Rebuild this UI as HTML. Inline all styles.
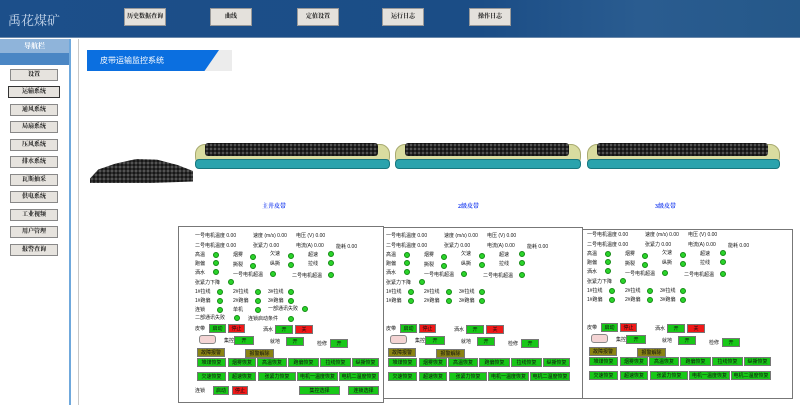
<!DOCTYPE html>
<html><head><meta charset="utf-8"><style>
*{margin:0;padding:0;box-sizing:border-box}
body{width:800px;height:405px;overflow:hidden;background:#fff;position:relative;font-family:"Liberation Serif","Noto Serif CJK SC","Noto Sans CJK SC",serif}
.a{position:absolute}
#hdr{left:0;top:0;width:800px;height:38px;background:linear-gradient(90deg,#1c4f8a 0%,#1b4d86 60%,#2a5c90 80%,#255889 100%);border-bottom:1px solid #6a88aa}
.hb{position:absolute;top:8px;width:42px;height:18px;background:#e4e1dc;border:1px solid #999;font-size:6px;font-weight:bold;text-align:center;line-height:16px;color:#111}
.logo{left:8px;top:10px;font-size:13px;color:#c8d8ec;font-family:"Noto Serif CJK SC",serif}
#side{left:0;top:39px;width:71px;height:366px;background:#fff;border-right:2px solid #6fa8dc}
.sb{position:absolute;left:10px;width:48px;height:12px;background:#e6e3de;border:1px solid #888;font-size:6px;font-weight:bold;text-align:center;line-height:10px;color:#111}
.t{position:absolute;font-size:5px;color:#111;white-space:nowrap;line-height:6px;font-family:"Liberation Sans","Noto Sans CJK SC",sans-serif}
.d{position:absolute;width:6px;height:6px;border-radius:50%;background:#2ad42a;border:0.5px solid #138a13}
.g,.r,.o{position:absolute;height:9px;font-size:5px;text-align:center;line-height:9px;color:#111;border:1px solid #777;font-family:"Liberation Sans","Noto Sans CJK SC",sans-serif;white-space:nowrap;overflow:hidden}
.g{background:#18c818}.r{background:#f01818}.o{background:#8a8414}
.pk{position:absolute;width:17px;height:9px;background:#f4d4d4;border:1px solid #888;border-radius:3px}
.box{position:absolute;border:1px solid #777}
.belt{position:absolute;height:31px}
.belt .body{position:absolute;left:0;top:3px;right:0;height:23px;background:#d9dca0;border-radius:10px;border:1px solid #a8aa70}
.belt .coal{position:absolute;left:10px;right:12px;top:2px;height:13px;background:radial-gradient(circle,#555 0.8px,#222 1.6px,#111 2px);background-size:4px 4px;border-radius:3px}
.belt .base{position:absolute;left:0;right:0;top:18px;height:10px;background:#2aa3ad;border-radius:4px;border:1px solid #18777f}
.bl{position:absolute;top:201px;font-size:6px;font-weight:bold;color:#1a3cf0}
</style></head><body>
<div id="hdr" class="a">
<div class="a logo">禹花煤矿</div>
<div class="hb" style="left:124px">历史数据查询</div>
<div class="hb" style="left:210px">曲线</div>
<div class="hb" style="left:297px">定值设置</div>
<div class="hb" style="left:382px">运行日志</div>
<div class="hb" style="left:469px">操作日志</div>
</div>
<div id="side" class="a">
<div class="a" style="left:0;top:0;width:69px;height:14px;background:#8fb4da;color:#fff;font-size:7px;text-align:center;line-height:14px;font-weight:bold">导航栏</div>
<div class="a" style="left:0;top:14px;width:69px;height:12px;background:#4a86c4"></div>
<div class="sb" style="top:30px">设置</div>
<div class="sb" style="top:47px;border:1px solid #333;left:8px;width:52px">运输系统</div>
<div class="sb" style="top:65px">通风系统</div>
<div class="sb" style="top:82px">局扇系统</div>
<div class="sb" style="top:100px">压风系统</div>
<div class="sb" style="top:117px">排水系统</div>
<div class="sb" style="top:135px">瓦斯抽采</div>
<div class="sb" style="top:152px">供电系统</div>
<div class="sb" style="top:170px">工业视频</div>
<div class="sb" style="top:187px">用户管理</div>
<div class="sb" style="top:205px">报警查询</div>
</div>
<div class="a" style="left:78px;top:39px;width:1px;height:366px;background:#c8c8c8"></div>
<div class="a" style="left:87px;top:50px;width:145px;height:21px;background:#ececec"></div>
<div class="a" style="left:87px;top:50px;width:145px;height:21px;background:#0b6fe0;clip-path:polygon(0 0,100% 0,89% 100%,0 100%);width:132px;color:#fff;font-size:8px;line-height:21px;padding-left:13px;font-family:'Liberation Sans','Noto Sans CJK SC',sans-serif">皮带运输监控系统</div>

<div class="a" style="left:90px;top:153px;width:103px;height:30px;background:radial-gradient(circle,#555 0.9px,#222 1.8px,#111 2.2px);background-size:4px 4px;clip-path:polygon(0 85%,8% 55%,25% 35%,45% 20%,65% 22%,85% 40%,100% 60%,100% 95%,60% 100%,0 100%)"></div>
<div class="belt" style="left:195px;top:141px;width:195px"><div class="body"></div><div class="coal"></div><div class="base"></div></div>
<div class="belt" style="left:395px;top:141px;width:186px"><div class="body"></div><div class="coal"></div><div class="base"></div></div>
<div class="belt" style="left:587px;top:141px;width:193px"><div class="body"></div><div class="coal"></div><div class="base"></div></div>
<div class="bl" style="left:262px">主井皮带</div>
<div class="bl" style="left:458px">2级皮带</div>
<div class="bl" style="left:655px">3级皮带</div>

<div class="box" style="left:178px;top:226px;width:206px;height:177px"></div>
<div class="box" style="left:383px;top:227px;width:200px;height:172px"></div>
<div class="box" style="left:582px;top:229px;width:211px;height:170px"></div>

<!-- panel 1 -->
<div class="a" style="left:178px;top:225px">
<div class="t" style="left:17px;top:8px">一号电机温度 0.00</div><div class="t" style="left:75px;top:8px">速度 (m/s) 0.00</div><div class="t" style="left:118px;top:8px">电压 (V) 0.00</div>
<div class="t" style="left:17px;top:18px">二号电机温度 0.00</div><div class="t" style="left:75px;top:18px">张紧力 0.00</div><div class="t" style="left:118px;top:18px">电流(A) 0.00</div><div class="t" style="left:158px;top:19px">能耗 0.00</div>
<div class="t" style="left:17px;top:27px">高温</div><div class="d" style="left:35px;top:27px"></div><div class="t" style="left:55px;top:27px">烟雾</div><div class="d" style="left:72px;top:29px"></div><div class="t" style="left:92px;top:26px">欠速</div><div class="d" style="left:110px;top:28px"></div><div class="t" style="left:130px;top:27px">超速</div><div class="d" style="left:150px;top:26px"></div>
<div class="t" style="left:17px;top:36px">跑偏</div><div class="d" style="left:35px;top:35px"></div><div class="t" style="left:55px;top:37px">撕裂</div><div class="d" style="left:72px;top:38px"></div><div class="t" style="left:92px;top:36px">纵撕</div><div class="d" style="left:110px;top:37px"></div><div class="t" style="left:130px;top:36px">拉线</div><div class="d" style="left:150px;top:35px"></div>
<div class="t" style="left:17px;top:45px">洒水</div><div class="d" style="left:35px;top:44px"></div><div class="t" style="left:55px;top:47px">一号电机超温</div><div class="d" style="left:92px;top:46px"></div><div class="t" style="left:114px;top:48px">二号电机超温</div><div class="d" style="left:150px;top:47px"></div>
<div class="t" style="left:17px;top:55px">张紧力下降</div><div class="d" style="left:50px;top:54px"></div>
<div class="t" style="left:17px;top:64px">1#拉线</div><div class="d" style="left:39px;top:64px"></div><div class="t" style="left:55px;top:64px">2#拉线</div><div class="d" style="left:77px;top:64px"></div><div class="t" style="left:90px;top:64px">3#拉线</div><div class="d" style="left:110px;top:64px"></div>
<div class="t" style="left:17px;top:73px">1#跑偏</div><div class="d" style="left:39px;top:73px"></div><div class="t" style="left:55px;top:73px">2#跑偏</div><div class="d" style="left:77px;top:73px"></div><div class="t" style="left:90px;top:73px">3#跑偏</div><div class="d" style="left:110px;top:73px"></div>
<div class="t" style="left:17px;top:82px">连锁</div><div class="d" style="left:39px;top:82px"></div><div class="t" style="left:55px;top:82px">单机</div><div class="d" style="left:77px;top:82px"></div><div class="t" style="left:90px;top:81px">一部通讯失败</div><div class="d" style="left:124px;top:81px"></div>
<div class="t" style="left:17px;top:90px">二部通讯失败</div><div class="d" style="left:56px;top:90px"></div><div class="t" style="left:70px;top:91px">连锁启动条件</div><div class="d" style="left:110px;top:91px"></div>
<div class="t" style="left:17px;top:101px">皮带</div><div class="g" style="left:31px;top:99px;width:17px">启动</div><div class="r" style="left:50px;top:99px;width:17px">停止</div>
<div class="t" style="left:85px;top:102px">洒水</div><div class="g" style="left:97px;top:100px;width:18px">开</div><div class="r" style="left:117px;top:100px;width:18px">关</div>
<div class="pk" style="left:21px;top:110px"></div><div class="t" style="left:46px;top:113px">集控</div><div class="g" style="left:56px;top:111px;width:20px">开</div><div class="t" style="left:92px;top:114px">就地</div><div class="g" style="left:108px;top:112px;width:18px">开</div><div class="t" style="left:139px;top:116px">检修</div><div class="g" style="left:152px;top:114px;width:18px">开</div>
<div class="o" style="left:19px;top:123px;width:28px">故障报警</div><div class="o" style="left:67px;top:124px;width:29px">报警解除</div>
<div class="g" style="left:19px;top:133px;width:29px">堆煤恢复</div><div class="g" style="left:50px;top:133px;width:28px">烟雾恢复</div><div class="g" style="left:79px;top:133px;width:30px">高温恢复</div><div class="g" style="left:110px;top:133px;width:31px">跑偏恢复</div><div class="g" style="left:142px;top:133px;width:31px">拉线恢复</div><div class="g" style="left:174px;top:133px;width:27px">纵撕恢复</div>
<div class="g" style="left:19px;top:147px;width:29px">欠速恢复</div><div class="g" style="left:50px;top:147px;width:28px">超速恢复</div><div class="g" style="left:80px;top:147px;width:38px">张紧力恢复</div><div class="g" style="left:119px;top:147px;width:41px">电机一温度恢复</div><div class="g" style="left:161px;top:147px;width:40px">电机二温度恢复</div>
<div class="t" style="left:17px;top:163px">连锁</div><div class="g" style="left:35px;top:161px;width:16px">启动</div><div class="r" style="left:54px;top:161px;width:16px">停止</div><div class="g" style="left:121px;top:161px;width:41px">集控选择</div><div class="g" style="left:170px;top:161px;width:31px">连锁选择</div>
</div>

<!-- panel 2 -->
<div class="a" style="left:369px;top:225px">
<div class="t" style="left:17px;top:8px">一号电机温度 0.00</div><div class="t" style="left:75px;top:8px">速度 (m/s) 0.00</div><div class="t" style="left:118px;top:8px">电压 (V) 0.00</div>
<div class="t" style="left:17px;top:18px">二号电机温度 0.00</div><div class="t" style="left:75px;top:18px">张紧力 0.00</div><div class="t" style="left:118px;top:18px">电流(A) 0.00</div><div class="t" style="left:158px;top:19px">能耗 0.00</div>
<div class="t" style="left:17px;top:27px">高温</div><div class="d" style="left:35px;top:27px"></div><div class="t" style="left:55px;top:27px">烟雾</div><div class="d" style="left:72px;top:29px"></div><div class="t" style="left:92px;top:26px">欠速</div><div class="d" style="left:110px;top:28px"></div><div class="t" style="left:130px;top:27px">超速</div><div class="d" style="left:150px;top:26px"></div>
<div class="t" style="left:17px;top:36px">跑偏</div><div class="d" style="left:35px;top:35px"></div><div class="t" style="left:55px;top:37px">撕裂</div><div class="d" style="left:72px;top:38px"></div><div class="t" style="left:92px;top:36px">纵撕</div><div class="d" style="left:110px;top:37px"></div><div class="t" style="left:130px;top:36px">拉线</div><div class="d" style="left:150px;top:35px"></div>
<div class="t" style="left:17px;top:45px">洒水</div><div class="d" style="left:35px;top:44px"></div><div class="t" style="left:55px;top:47px">一号电机超温</div><div class="d" style="left:92px;top:46px"></div><div class="t" style="left:114px;top:48px">二号电机超温</div><div class="d" style="left:150px;top:47px"></div>
<div class="t" style="left:17px;top:55px">张紧力下降</div><div class="d" style="left:50px;top:54px"></div>
<div class="t" style="left:17px;top:64px">1#拉线</div><div class="d" style="left:39px;top:64px"></div><div class="t" style="left:55px;top:64px">2#拉线</div><div class="d" style="left:77px;top:64px"></div><div class="t" style="left:90px;top:64px">3#拉线</div><div class="d" style="left:110px;top:64px"></div>
<div class="t" style="left:17px;top:73px">1#跑偏</div><div class="d" style="left:39px;top:73px"></div><div class="t" style="left:55px;top:73px">2#跑偏</div><div class="d" style="left:77px;top:73px"></div><div class="t" style="left:90px;top:73px">3#跑偏</div><div class="d" style="left:110px;top:73px"></div>
<div class="t" style="left:17px;top:101px">皮带</div><div class="g" style="left:31px;top:99px;width:17px">启动</div><div class="r" style="left:50px;top:99px;width:17px">停止</div>
<div class="t" style="left:85px;top:102px">洒水</div><div class="g" style="left:97px;top:100px;width:18px">开</div><div class="r" style="left:117px;top:100px;width:18px">关</div>
<div class="pk" style="left:21px;top:110px"></div><div class="t" style="left:46px;top:113px">集控</div><div class="g" style="left:56px;top:111px;width:20px">开</div><div class="t" style="left:92px;top:114px">就地</div><div class="g" style="left:108px;top:112px;width:18px">开</div><div class="t" style="left:139px;top:116px">检修</div><div class="g" style="left:152px;top:114px;width:18px">开</div>
<div class="o" style="left:19px;top:123px;width:28px">故障报警</div><div class="o" style="left:67px;top:124px;width:29px">报警解除</div>
<div class="g" style="left:19px;top:133px;width:29px">堆煤恢复</div><div class="g" style="left:50px;top:133px;width:28px">烟雾恢复</div><div class="g" style="left:79px;top:133px;width:30px">高温恢复</div><div class="g" style="left:110px;top:133px;width:31px">跑偏恢复</div><div class="g" style="left:142px;top:133px;width:31px">拉线恢复</div><div class="g" style="left:174px;top:133px;width:27px">纵撕恢复</div>
<div class="g" style="left:19px;top:147px;width:29px">欠速恢复</div><div class="g" style="left:50px;top:147px;width:28px">超速恢复</div><div class="g" style="left:80px;top:147px;width:38px">张紧力恢复</div><div class="g" style="left:119px;top:147px;width:41px">电机一温度恢复</div><div class="g" style="left:161px;top:147px;width:40px">电机二温度恢复</div>
</div>

<!-- panel 3 -->
<div class="a" style="left:570px;top:224px">
<div class="t" style="left:17px;top:8px">一号电机温度 0.00</div><div class="t" style="left:75px;top:8px">速度 (m/s) 0.00</div><div class="t" style="left:118px;top:8px">电压 (V) 0.00</div>
<div class="t" style="left:17px;top:18px">二号电机温度 0.00</div><div class="t" style="left:75px;top:18px">张紧力 0.00</div><div class="t" style="left:118px;top:18px">电流(A) 0.00</div><div class="t" style="left:158px;top:19px">能耗 0.00</div>
<div class="t" style="left:17px;top:27px">高温</div><div class="d" style="left:35px;top:27px"></div><div class="t" style="left:55px;top:27px">烟雾</div><div class="d" style="left:72px;top:29px"></div><div class="t" style="left:92px;top:26px">欠速</div><div class="d" style="left:110px;top:28px"></div><div class="t" style="left:130px;top:27px">超速</div><div class="d" style="left:150px;top:26px"></div>
<div class="t" style="left:17px;top:36px">跑偏</div><div class="d" style="left:35px;top:35px"></div><div class="t" style="left:55px;top:37px">撕裂</div><div class="d" style="left:72px;top:38px"></div><div class="t" style="left:92px;top:36px">纵撕</div><div class="d" style="left:110px;top:37px"></div><div class="t" style="left:130px;top:36px">拉线</div><div class="d" style="left:150px;top:35px"></div>
<div class="t" style="left:17px;top:45px">洒水</div><div class="d" style="left:35px;top:44px"></div><div class="t" style="left:55px;top:47px">一号电机超温</div><div class="d" style="left:92px;top:46px"></div><div class="t" style="left:114px;top:48px">二号电机超温</div><div class="d" style="left:150px;top:47px"></div>
<div class="t" style="left:17px;top:55px">张紧力下降</div><div class="d" style="left:50px;top:54px"></div>
<div class="t" style="left:17px;top:64px">1#拉线</div><div class="d" style="left:39px;top:64px"></div><div class="t" style="left:55px;top:64px">2#拉线</div><div class="d" style="left:77px;top:64px"></div><div class="t" style="left:90px;top:64px">3#拉线</div><div class="d" style="left:110px;top:64px"></div>
<div class="t" style="left:17px;top:73px">1#跑偏</div><div class="d" style="left:39px;top:73px"></div><div class="t" style="left:55px;top:73px">2#跑偏</div><div class="d" style="left:77px;top:73px"></div><div class="t" style="left:90px;top:73px">3#跑偏</div><div class="d" style="left:110px;top:73px"></div>
<div class="t" style="left:17px;top:101px">皮带</div><div class="g" style="left:31px;top:99px;width:17px">启动</div><div class="r" style="left:50px;top:99px;width:17px">停止</div>
<div class="t" style="left:85px;top:102px">洒水</div><div class="g" style="left:97px;top:100px;width:18px">开</div><div class="r" style="left:117px;top:100px;width:18px">关</div>
<div class="pk" style="left:21px;top:110px"></div><div class="t" style="left:46px;top:113px">集控</div><div class="g" style="left:56px;top:111px;width:20px">开</div><div class="t" style="left:92px;top:114px">就地</div><div class="g" style="left:108px;top:112px;width:18px">开</div><div class="t" style="left:139px;top:116px">检修</div><div class="g" style="left:152px;top:114px;width:18px">开</div>
<div class="o" style="left:19px;top:123px;width:28px">故障报警</div><div class="o" style="left:67px;top:124px;width:29px">报警解除</div>
<div class="g" style="left:19px;top:133px;width:29px">堆煤恢复</div><div class="g" style="left:50px;top:133px;width:28px">烟雾恢复</div><div class="g" style="left:79px;top:133px;width:30px">高温恢复</div><div class="g" style="left:110px;top:133px;width:31px">跑偏恢复</div><div class="g" style="left:142px;top:133px;width:31px">拉线恢复</div><div class="g" style="left:174px;top:133px;width:27px">纵撕恢复</div>
<div class="g" style="left:19px;top:147px;width:29px">欠速恢复</div><div class="g" style="left:50px;top:147px;width:28px">超速恢复</div><div class="g" style="left:80px;top:147px;width:38px">张紧力恢复</div><div class="g" style="left:119px;top:147px;width:41px">电机一温度恢复</div><div class="g" style="left:161px;top:147px;width:40px">电机二温度恢复</div>
</div>
</body></html>
